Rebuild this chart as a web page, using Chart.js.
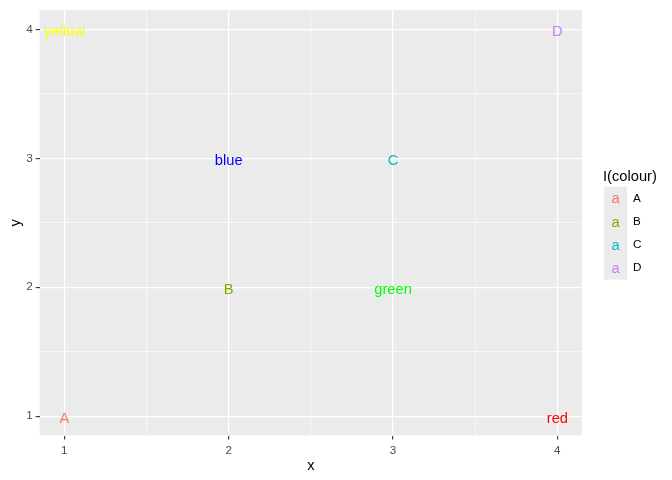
<!DOCTYPE html>
<html>
<head>
<meta charset="utf-8">
<script src="https://cdn.jsdelivr.net/npm/chart.js@4/dist/chart.umd.min.js"></script>
<style>
  html, body { margin: 0; padding: 0; background: #fff; }
  #wrap { width: 672px; height: 480px; }
</style>
</head>
<body>
<div id="wrap"><canvas id="myChart" width="672" height="480"></canvas></div>
<script>
// data
let labels = ["A", "B", "C", "D", "yellow", "blue", "green", "red"];
let xs = [1, 2, 3, 4, 1, 2, 3, 4];
let ys = [1, 2, 3, 4, 4, 3, 2, 1];
let colours = ["#F8766D", "#7CAE00", "#00BFC4", "#C77CFF", "#FFFF00", "#0000FF", "#00FF00", "#FF0000"];

let xTicks = [1, 2, 3, 4];
let yTicks = [1, 2, 3, 4];
let minorTicks = [1.5, 2.5, 3.5];

let legendTitle = "I(colour)";
let legendLabels = ["A", "B", "C", "D"];
let legendColours = ["#F8766D", "#7CAE00", "#00BFC4", "#C77CFF"];

const FONT = "'Liberation Sans', Arial, sans-serif";

let points = xs.map((x, i) => ({ x: x, y: ys[i] }));

function allTicks(major) {
  return major.concat(minorTicks).sort((a, b) => a - b).map(v => ({ value: v }));
}
function isMajor(ctx) {
  return ctx.tick && Number.isInteger(ctx.tick.value);
}

// grey panel background
const panelBg = {
  id: "panelBg",
  beforeDraw(chart) {
    const c = chart.ctx, a = chart.chartArea;
    c.save();
    c.fillStyle = "#fff";
    c.fillRect(0, 0, chart.width, chart.height);
    c.fillStyle = "#EBEBEB";
    c.fillRect(a.left, a.top, a.right - a.left, a.bottom - a.top);
    c.restore();
  },
};

// text labels drawn at the points chart.js placed
const textLabels = {
  id: "textLabels",
  afterDatasetsDraw(chart) {
    const c = chart.ctx;
    const meta = chart.getDatasetMeta(0);
    c.save();
    c.font = "14.7px " + FONT;
    c.textAlign = "center";
    c.textBaseline = "middle";
    meta.data.forEach((el, i) => {
      c.fillStyle = colours[i];
      c.fillText(labels[i], el.x, el.y + 2.5);
    });
    c.restore();
  },
};

// ggplot style legend with "a" keys
const textLegend = {
  id: "textLegend",
  afterDraw(chart) {
    const c = chart.ctx, a = chart.chartArea;
    const left = a.right + 22;
    const mid = (a.top + a.bottom) / 2;
    const keyH = 23.2, keyW = 23;
    const keysTop = mid - 36;
    c.save();
    c.textBaseline = "middle";
    c.textAlign = "left";
    c.fillStyle = "#000";
    c.font = "14.7px " + FONT;
    c.fillText(legendTitle, left - 1, keysTop - 10);
    c.fillStyle = "#EBEBEB";
    c.fillRect(left, keysTop, keyW, keyH * legendLabels.length);
    legendLabels.forEach((lab, i) => {
      const cy = keysTop + keyH * i + keyH / 2;
      c.font = "14.7px " + FONT;
      c.textAlign = "center";
      c.fillStyle = legendColours[i];
      c.fillText("a", left + keyW / 2, cy + 1);
      c.font = "11.7px " + FONT;
      c.textAlign = "left";
      c.fillStyle = "#000";
      c.fillText(lab, left + keyW + 6, cy);
    });
    c.restore();
  },
};

let myChart = document.getElementById("myChart").getContext("2d");

var chart = new Chart(myChart, {
  type: "scatter",
  data: {
    datasets: [
      {
        label: "labels",
        data: points,
        pointRadius: 0,
        pointHoverRadius: 0,
      },
    ],
  },
  plugins: [panelBg, textLabels, textLegend],
  options: {
    responsive: false,
    animation: false,
    devicePixelRatio: 1,
    layout: { padding: { top: 7, right: 90, left: 0, bottom: 0 } },
    plugins: {
      legend: { display: false },
      tooltip: { enabled: false },
    },
    scales: {
      x: {
        type: "linear",
        min: 0.85,
        max: 4.15,
        afterBuildTicks: (scale) => { scale.ticks = allTicks(xTicks); },
        afterFit: (scale) => { scale.height = 44.5; },
        border: { display: false },
        grid: {
          color: "#FFFFFF",
          lineWidth: (ctx) => (isMajor(ctx) ? 1.2 : 0.6),
          drawTicks: true,
          tickLength: 4,
          tickWidth: 1.1,
          tickColor: (ctx) => (isMajor(ctx) ? "#333333" : "rgba(0,0,0,0)"),
        },
        ticks: {
          autoSkip: false,
          maxRotation: 0,
          padding: 4,
          color: "#4D4D4D",
          font: { family: FONT, size: 11.7 },
          callback: (v) => (Number.isInteger(v) ? String(v) : ""),
        },
        title: {
          display: true,
          text: "x",
          color: "#000",
          font: { family: FONT, size: 14.7 },
          padding: { top: 0, bottom: 5 },
        },
      },
      y: {
        type: "linear",
        min: 0.85,
        max: 4.15,
        afterBuildTicks: (scale) => { scale.ticks = allTicks(yTicks); },
        afterFit: (scale) => { scale.width = 39.7; },
        border: { display: false },
        grid: {
          color: "#FFFFFF",
          lineWidth: (ctx) => (isMajor(ctx) ? 1.2 : 0.6),
          drawTicks: true,
          tickLength: 4,
          tickWidth: 1.1,
          tickColor: (ctx) => (isMajor(ctx) ? "#333333" : "rgba(0,0,0,0)"),
        },
        ticks: {
          autoSkip: false,
          padding: 3,
          color: "#4D4D4D",
          font: { family: FONT, size: 11.7 },
          callback: (v) => (Number.isInteger(v) ? String(v) : ""),
        },
        title: {
          display: true,
          text: "y",
          color: "#000",
          font: { family: FONT, size: 14.7 },
          padding: { top: 7, bottom: 0 },
        },
      },
    },
  },
});
</script>
</body>
</html>
